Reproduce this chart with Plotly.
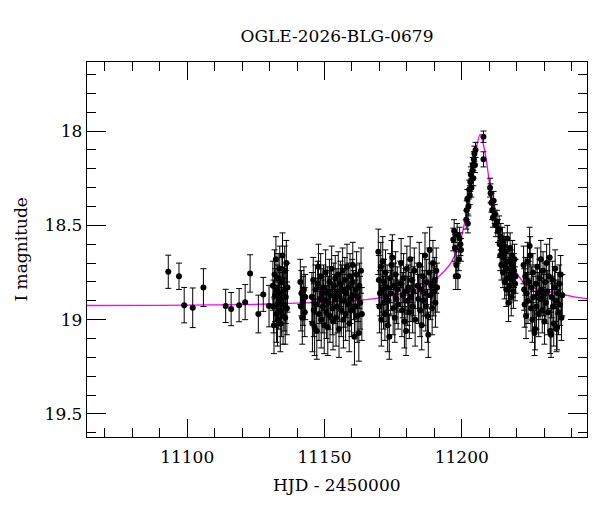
import plotly.graph_objects as go

# ---------------- data ----------------
title_text = "OGLE-2026-BLG-0679"

hjd_early = [11093.1, 11097.0, 11098.9, 11102.0, 11105.9, 11114.0, 11116.0, 11118.9,
             11121.1, 11122.9, 11125.9, 11127.7, 11129.8]
mag_early = [18.746, 18.770, 18.923, 18.937, 18.830, 18.927, 18.944, 18.923,
             18.907, 18.755, 18.970, 18.866, 18.928]
err_early = [0.088, 0.070, 0.094, 0.105, 0.100, 0.088, 0.088, 0.088,
             0.093, 0.099, 0.100, 0.090, 0.110]

hjd_b = [11131.2, 11131.4, 11131.6, 11131.8, 11132.0, 11132.3, 11132.5, 11132.7, 11132.9,
         11133.1, 11133.3, 11133.5, 11133.7, 11133.9, 11134.1, 11134.3, 11134.5, 11134.7,
         11134.9, 11135.1, 11135.3, 11135.5, 11135.7, 11135.9, 11136.1, 11136.3, 11136.5]
mag_b = [18.82, 18.93, 19.03, 18.76, 18.87, 18.68, 18.97, 18.84, 19.00,
         18.78, 18.91, 18.86, 18.73, 19.02, 18.89, 18.95, 18.80, 18.66,
         18.98, 18.85, 18.92, 18.74, 18.99, 18.88, 18.70, 18.94, 18.83]
err_b = [0.13, 0.14, 0.15, 0.13, 0.14, 0.12, 0.15, 0.13, 0.14,
         0.13, 0.14, 0.13, 0.12, 0.15, 0.14, 0.14, 0.13, 0.12,
         0.15, 0.13, 0.14, 0.13, 0.14, 0.14, 0.12, 0.14, 0.13]

hjd_c = [11141.2, 11141.4, 11141.6, 11141.9, 11142.2, 11142.5, 11142.8, 11143.0]
mag_c = [18.80, 18.93, 18.86, 18.99, 18.90, 18.84, 18.96, 18.88]
err_c = [0.12, 0.13, 0.12, 0.14, 0.13, 0.12, 0.13, 0.12]

hjd_d = [11145.4, 11145.6, 11145.9, 11146.1, 11146.4, 11146.7, 11146.9, 11147.2, 11147.5, 11147.8,
         11148.0, 11148.3, 11148.6, 11148.8, 11149.1, 11149.4, 11149.6, 11149.9, 11150.2, 11150.4,
         11150.7, 11151.0, 11151.2, 11151.5, 11151.8, 11152.0, 11152.3, 11152.6, 11152.9, 11153.1,
         11153.4, 11153.7, 11153.9, 11154.2, 11154.5, 11154.7, 11155.0, 11155.3, 11155.5, 11155.8,
         11156.1, 11156.3, 11156.6, 11156.9, 11157.1, 11157.4, 11157.7, 11157.9, 11158.2, 11158.5,
         11158.7, 11159.0, 11159.3, 11159.5, 11159.8, 11160.1, 11160.3, 11160.6, 11160.9, 11161.1,
         11161.4, 11161.7, 11161.9, 11162.2, 11162.5, 11162.7, 11163.0, 11163.3, 11163.6]
mag_d = [18.88, 19.02, 18.79, 18.95, 19.04, 18.84, 18.92, 19.06, 18.81, 18.72,
         18.97, 18.89, 18.77, 19.00, 18.86, 18.93, 18.83, 19.03, 18.90, 18.75,
         18.96, 18.85, 19.04, 18.91, 18.80, 18.98, 18.87, 18.73, 18.94, 19.01,
         18.82, 18.89, 18.78, 18.99, 18.86, 18.93, 18.76, 19.05, 18.88, 18.81,
         18.95, 18.84, 18.74, 19.00, 18.90, 18.79, 18.97, 18.86, 18.72, 18.92,
         18.83, 19.02, 18.77, 18.89, 18.95, 18.80, 18.71, 18.87, 19.09, 18.93,
         18.84, 18.76, 18.98, 18.88, 19.07, 18.82, 18.91, 18.74, 18.97]
err_d = [0.13, 0.15, 0.12, 0.14, 0.15, 0.13, 0.14, 0.15, 0.12, 0.12,
         0.14, 0.13, 0.12, 0.15, 0.13, 0.14, 0.12, 0.15, 0.13, 0.12,
         0.14, 0.13, 0.15, 0.14, 0.12, 0.14, 0.13, 0.12, 0.14, 0.15,
         0.12, 0.13, 0.12, 0.15, 0.13, 0.14, 0.12, 0.15, 0.13, 0.12,
         0.14, 0.13, 0.12, 0.15, 0.14, 0.12, 0.14, 0.13, 0.12, 0.14,
         0.13, 0.15, 0.12, 0.13, 0.14, 0.12, 0.12, 0.13, 0.15, 0.14,
         0.13, 0.12, 0.14, 0.13, 0.15, 0.12, 0.14, 0.12, 0.14]

hjd_e = [11169.6, 11169.8, 11170.0, 11170.2, 11170.5, 11170.7, 11171.0, 11171.2, 11171.5, 11171.7,
         11172.0, 11172.2, 11172.5, 11172.8, 11173.0, 11173.3, 11173.6, 11173.9, 11174.1, 11174.4,
         11174.7, 11175.0, 11175.3, 11175.6, 11175.9, 11176.2, 11176.5, 11176.8, 11177.6, 11177.9,
         11178.2, 11178.5, 11178.8, 11179.1, 11179.4, 11179.7, 11180.0, 11180.3, 11180.6, 11180.9,
         11181.2, 11181.5, 11181.8, 11182.1, 11182.4, 11182.7, 11183.0, 11183.9, 11184.2, 11184.5,
         11184.8, 11185.1, 11185.4, 11185.7, 11186.0, 11186.3, 11186.6, 11186.9, 11187.2, 11187.5,
         11187.8, 11188.1, 11188.3, 11188.6, 11188.9, 11189.2, 11189.5, 11189.8, 11190.1, 11190.4,
         11190.7, 11191.0]
mag_e = [18.64, 18.79, 18.93, 18.86, 18.72, 19.00, 18.84, 18.69, 18.91, 18.80,
         18.97, 18.75, 18.88, 18.83, 19.03, 18.90, 19.09, 18.78, 18.86, 18.71,
         18.67, 18.94, 18.82, 18.99, 18.76, 18.89, 18.84, 18.92, 18.81, 18.70,
         18.95, 18.87, 18.78, 19.01, 18.85, 19.06, 18.73, 18.90, 18.83, 18.96,
         18.68, 18.88, 18.79, 18.93, 18.85, 18.74, 19.00, 18.82, 18.89, 18.71,
         18.95, 18.84, 19.03, 18.77, 18.90, 18.86, 18.66, 18.93, 18.80, 18.98,
         19.08, 18.75, 18.63, 18.87, 18.82, 18.94, 18.70, 18.85, 18.79, 18.91,
         18.74, 18.83]
err_e = [0.12, 0.13, 0.14, 0.12, 0.13, 0.14, 0.12, 0.13, 0.14, 0.12,
         0.14, 0.12, 0.13, 0.12, 0.14, 0.13, 0.12, 0.13, 0.12, 0.13,
         0.12, 0.14, 0.12, 0.13, 0.12, 0.13, 0.12, 0.13, 0.12, 0.13,
         0.14, 0.12, 0.13, 0.14, 0.12, 0.13, 0.12, 0.13, 0.12, 0.14,
         0.12, 0.13, 0.12, 0.14, 0.13, 0.12, 0.14, 0.12, 0.13, 0.12,
         0.14, 0.12, 0.13, 0.12, 0.13, 0.12, 0.12, 0.13, 0.12, 0.14,
         0.12, 0.13, 0.12, 0.13, 0.12, 0.14, 0.12, 0.13, 0.12, 0.13,
         0.12, 0.13]

hjd_f = [11196.9, 11197.2, 11197.5, 11197.8, 11198.0, 11198.3, 11198.6, 11198.9, 11199.2, 11199.5, 11199.7]
mag_f = [18.575, 18.53, 18.62, 18.77, 18.71, 18.55, 18.77, 18.68, 18.57, 18.60, 18.63]
err_f = [0.06, 0.06, 0.07, 0.07, 0.07, 0.06, 0.07, 0.06, 0.06, 0.06, 0.06]

hjd_peak = [11201.6, 11201.8, 11202.0, 11202.2, 11202.4, 11202.7, 11202.9, 11203.1, 11203.3,
            11203.5, 11203.8, 11204.0, 11204.2, 11204.4, 11204.6, 11204.8, 11205.0,
            11207.9, 11207.9,
            11210.3, 11210.5, 11210.8, 11211.1, 11211.3, 11211.6, 11212.0, 11212.4, 11212.8, 11213.2]
mag_peak = [18.47, 18.42, 18.36, 18.49, 18.40, 18.31, 18.34, 18.27, 18.23,
            18.30, 18.21, 18.18, 18.25, 18.15, 18.12, 18.18, 18.10,
            18.03, 18.15,
            18.30, 18.33, 18.38, 18.42, 18.46, 18.37, 18.44, 18.50, 18.48, 18.53]
err_peak = [0.05, 0.05, 0.05, 0.05, 0.05, 0.05, 0.05, 0.05, 0.04,
            0.05, 0.04, 0.04, 0.04, 0.04, 0.04, 0.04, 0.04,
            0.03, 0.04,
            0.05, 0.05, 0.05, 0.05, 0.05, 0.05, 0.05, 0.06, 0.06, 0.06]

hjd_j = [11213.6, 11213.8, 11214.0, 11214.2, 11214.4, 11214.6, 11214.8, 11215.0, 11215.2, 11215.4,
         11215.6, 11215.8, 11216.0, 11216.2, 11216.4, 11216.6, 11216.8, 11217.0, 11217.2, 11217.4,
         11217.6, 11217.8, 11218.0, 11218.2, 11218.4, 11218.6, 11218.8, 11219.0, 11219.2, 11219.4,
         11219.6]
mag_j = [18.52, 18.60, 18.66, 18.56, 18.71, 18.63, 18.58, 18.75, 18.67, 18.61,
         18.80, 18.70, 18.64, 18.84, 18.73, 18.57, 18.78, 18.91, 18.69, 18.82,
         18.62, 18.76, 18.88, 18.71, 18.66, 18.79, 18.85, 18.74, 18.68, 18.81,
         18.77]
err_j = [0.07, 0.07, 0.08, 0.07, 0.08, 0.07, 0.07, 0.08, 0.08, 0.07,
         0.09, 0.08, 0.08, 0.09, 0.08, 0.07, 0.09, 0.10, 0.08, 0.09,
         0.08, 0.09, 0.10, 0.08, 0.08, 0.09, 0.09, 0.09, 0.08, 0.09,
         0.09]

hjd_k = [11222.5, 11222.7, 11222.9, 11223.1, 11223.4, 11223.6, 11223.9, 11224.1, 11224.4, 11224.7,
         11224.9, 11225.2, 11225.4, 11225.7, 11225.9, 11226.2, 11226.5, 11226.7, 11227.0, 11227.2,
         11227.5, 11227.8, 11228.0, 11228.3, 11228.5, 11228.8, 11229.0, 11229.3, 11229.6, 11229.8,
         11230.1, 11230.3, 11230.6, 11230.9, 11231.1, 11231.4, 11231.7, 11232.0, 11232.2, 11232.5,
         11232.7, 11233.0, 11233.2, 11233.5, 11233.8, 11234.0, 11234.3, 11234.5, 11234.7, 11235.0,
         11235.2, 11235.5, 11235.8, 11236.0, 11236.3, 11236.6]
mag_k = [18.71, 18.84, 18.92, 18.77, 18.98, 18.86, 18.69, 18.90, 18.80, 18.61,
         18.66, 18.94, 18.83, 19.00, 18.75, 18.88, 19.07, 19.05, 18.81, 18.93,
         18.72, 18.86, 18.97, 18.78, 18.89, 18.68, 18.84, 18.95, 18.74, 18.87,
         19.01, 18.80, 18.91, 18.70, 18.85, 18.96, 18.77, 18.67, 19.06, 19.08,
         18.88, 18.79, 18.93, 19.02, 18.83, 18.73, 18.90, 19.05, 19.04, 18.86,
         18.96, 18.81, 18.92, 18.76, 18.99, 18.87]
err_k = [0.10, 0.11, 0.12, 0.10, 0.12, 0.11, 0.10, 0.12, 0.11, 0.10,
         0.10, 0.12, 0.11, 0.12, 0.10, 0.11, 0.12, 0.11, 0.10, 0.12,
         0.10, 0.11, 0.12, 0.10, 0.11, 0.10, 0.11, 0.12, 0.10, 0.11,
         0.12, 0.10, 0.11, 0.10, 0.11, 0.12, 0.10, 0.10, 0.12, 0.12,
         0.11, 0.10, 0.12, 0.12, 0.11, 0.10, 0.11, 0.12, 0.12, 0.11,
         0.12, 0.10, 0.11, 0.10, 0.12, 0.11]

# model curve
model_hjd = [11063.5, 11090, 11110, 11130, 11145, 11160, 11170, 11180, 11186, 11190,
             11194, 11196, 11198, 11199.5, 11200.6, 11201.9, 11203.1, 11204.3, 11205.5,
             11206.7, 11207.9, 11209.2, 11210.4, 11211.6, 11213.4, 11215.8, 11218.5,
             11222.5, 11228, 11234.7, 11240, 11245.6]
model_mag = [18.925, 18.924, 18.922, 18.917, 18.910, 18.900, 18.885, 18.853, 18.825, 18.79,
             18.737, 18.70, 18.64, 18.58, 18.516, 18.41, 18.286, 18.163, 18.074,
             18.018, 18.074, 18.18, 18.32, 18.446, 18.552, 18.64, 18.72,
             18.80, 18.84, 18.861, 18.876, 18.888]

hjd = hjd_early + hjd_b + hjd_c + hjd_d + hjd_e + hjd_f + hjd_peak + hjd_j + hjd_k
mag = mag_early + mag_b + mag_c + mag_d + mag_e + mag_f + mag_peak + mag_j + mag_k
err = err_early + err_b + err_c + err_d + err_e + err_f + err_peak + err_j + err_k

x_range = [11063.5, 11245.6]
y_range = [19.622, 17.634]

FONT = "DejaVu Serif"
FS = 17

fig = go.Figure()
fig.add_trace(go.Scatter(
    x=model_hjd, y=model_mag, mode="lines",
    line=dict(color="#ff00ff", width=1.3, shape="spline", smoothing=0.8),
    hoverinfo="skip", showlegend=False))
fig.add_trace(go.Scatter(
    x=hjd, y=mag, mode="markers",
    marker=dict(color="black", size=6),
    error_y=dict(type="data", array=err, visible=True, color="black", thickness=1, width=3),
    showlegend=False))

axis_common = dict(
    showline=True, linecolor="black", linewidth=1.3, mirror="ticks",
    ticks="inside", tickcolor="black", tickwidth=1,
    showgrid=False, zeroline=False,
    tickfont=dict(family=FONT, size=FS, color="black"),
)
fig.update_xaxes(
    range=x_range, tickmode="linear", tick0=11000, dtick=50, ticklen=18,
    tickformat="d", ticklabelstandoff=4,
    minor=dict(tickmode="linear", tick0=11000, dtick=10, ticks="inside", ticklen=9,
               tickcolor="black", tickwidth=1, showgrid=False),
    **axis_common)
fig.update_yaxes(
    range=y_range, tickmode="linear", tick0=18, dtick=0.5, ticklen=19,
    minor=dict(tickmode="linear", tick0=18, dtick=0.1, ticks="inside", ticklen=9,
               tickcolor="black", tickwidth=1, showgrid=False),
    **axis_common)

# the page body adds an 8 px offset, so the figure is 592x504
fig.update_layout(
    width=592, height=504,
    margin=dict(l=79, r=13, t=54, b=75),
    paper_bgcolor="white", plot_bgcolor="white",
    font=dict(family=FONT, size=FS, color="black"),
    title=dict(text=title_text, x=0.5, xref="paper", y=1 - 28 / 504, yref="container",
               yanchor="middle", xanchor="center",
               font=dict(family=FONT, size=FS, color="black")),
    annotations=[
        dict(text="HJD - 2450000", x=0.5, y=-0.128, xref="paper", yref="paper",
             xanchor="center", yanchor="middle", showarrow=False,
             font=dict(family=FONT, size=FS, color="black")),
        dict(text="I magnitude", x=-0.134, y=0.5, xref="paper", yref="paper",
             xanchor="center", yanchor="middle", showarrow=False, textangle=-90,
             font=dict(family=FONT, size=FS, color="black")),
    ],
)

fig.write_html("out.html")
